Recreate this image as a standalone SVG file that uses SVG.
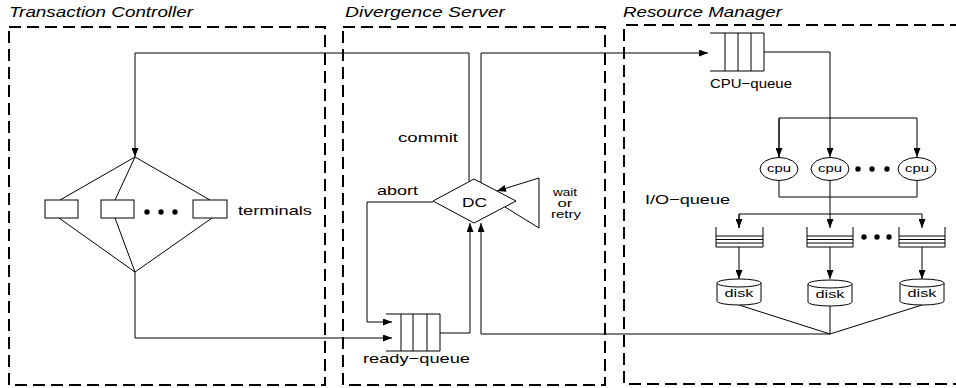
<svg xmlns="http://www.w3.org/2000/svg" width="956" height="388" viewBox="0 0 956 388">
<style>
.panel{fill:none;stroke:#000;stroke-width:2;stroke-dasharray:12 6}
.ln{fill:none;stroke:#000;stroke-width:1}
.sh{fill:#fff;stroke:#000;stroke-width:1}
.title{font-family:"Liberation Sans",Arial,sans-serif;font-style:italic;font-size:14px;fill:#000}
.lbl{font-family:"Liberation Sans",Arial,sans-serif;font-size:13px;fill:#000}
.wr{font-family:"Liberation Sans",Arial,sans-serif;font-size:10px;fill:#000;text-anchor:middle}
.sm{font-family:"Liberation Sans",Arial,sans-serif;font-size:10px;fill:#000;text-anchor:middle}
.dot{fill:#000}
</style>
<defs>
<marker id="ah" markerWidth="9" markerHeight="7" refX="9" refY="3.5" orient="auto" markerUnits="userSpaceOnUse">
<path d="M0,0 L9,3.5 L0,7 z" fill="#000"/>
</marker>
</defs>

<g id="panels">
<g id="transaction-controller">
<rect class="panel" x="9" y="27" width="316" height="358"/>
<text class="title" x="9" y="17" textLength="184" lengthAdjust="spacingAndGlyphs">Transaction Controller</text>
</g>
<g id="divergence-server">
<rect class="panel" x="343" y="27" width="262" height="358"/>
<text class="title" x="345" y="17" textLength="160" lengthAdjust="spacingAndGlyphs">Divergence Server</text>
</g>
<g id="resource-manager">
<path class="panel" d="M962,25 H624 V384 H962"/>
<text class="title" x="623" y="17" textLength="159" lengthAdjust="spacingAndGlyphs">Resource Manager</text>
</g>
</g>

<g id="connectors">
<path class="ln" d="M469,181 V53 H135 V157" marker-end="url(#ah)"/>
<path class="ln" d="M481,183 V53 H708" marker-end="url(#ah)"/>
<path class="ln" d="M135,157 L60,200 M135,157 L115,200 M135,157 L210,200"/>
<path class="ln" d="M59,218 L135,272 M115,218 L135,272 M212,218 L135,272"/>
<path class="ln" d="M135,272 V338 H392" marker-end="url(#ah)"/>
<path class="ln" d="M433,202 H367 V322 H392" marker-end="url(#ah)"/>
<path class="ln" d="M440,333 H470 V223" marker-end="url(#ah)"/>
<path class="ln" d="M830,334 H481 V223" marker-end="url(#ah)"/>
<path class="ln" d="M505,207 L539,228 V178 L497,191" marker-end="url(#ah)"/>
<path class="ln" d="M764,52 H830 V157" marker-end="url(#ah)"/>
<path class="ln" d="M779,157 V118 H917 V157" marker-end="url(#ah)"/>
<path class="ln" d="M779,118 V157" marker-end="url(#ah)"/>
<path class="ln" d="M779,181 V197 H917 V181"/>
<path class="ln" d="M830,181 V228" marker-end="url(#ah)"/>
<path class="ln" d="M739,228 V214 H922 V228" marker-end="url(#ah)"/>
<path class="ln" d="M739,214 V228" marker-end="url(#ah)"/>
<path class="ln" d="M739,247 V279" marker-end="url(#ah)"/>
<path class="ln" d="M830,247 V279" marker-end="url(#ah)"/>
<path class="ln" d="M922,247 V279" marker-end="url(#ah)"/>
<path class="ln" d="M739,305 L830,334 M830,305 V334 M922,305 L830,334"/>
</g>

<g id="terminals">
<rect class="sh" x="45" y="200" width="33" height="18"/>
<rect class="sh" x="101" y="200" width="33" height="18"/>
<rect class="sh" x="193" y="200" width="34" height="18"/>
<circle class="dot" cx="147" cy="212" r="2.7"/>
<circle class="dot" cx="161" cy="212" r="2.7"/>
<circle class="dot" cx="175" cy="212" r="2.7"/>
<text class="lbl" x="238" y="215" textLength="74" lengthAdjust="spacingAndGlyphs">terminals</text>
</g>

<g id="dc">
<path class="sh" d="M474,179 L516,201 L474,223 L433,201 z"/>
<text class="lbl" x="462" y="207" textLength="25" lengthAdjust="spacingAndGlyphs">DC</text>
<text class="lbl" x="398" y="142" textLength="60" lengthAdjust="spacingAndGlyphs">commit</text>
<text class="lbl" x="377" y="195" textLength="41" lengthAdjust="spacingAndGlyphs">abort</text>
<text class="wr" x="565" y="196" textLength="24" lengthAdjust="spacingAndGlyphs">wait</text>
<text class="wr" x="565" y="207" textLength="15" lengthAdjust="spacingAndGlyphs">or</text>
<text class="wr" x="566" y="218" textLength="30" lengthAdjust="spacingAndGlyphs">retry</text>
</g>

<g id="ready-queue">
<path class="ln" d="M386,314 H440 V351 H386 M401,314 V351 M413,314 V351 M427,314 V351"/>
<text class="lbl" x="363" y="363" textLength="107" lengthAdjust="spacingAndGlyphs">ready−queue</text>
</g>

<g id="cpu-queue">
<path class="ln" d="M710,33 H764 V71 H710 M725,33 V71 M738,33 V71 M751,33 V71"/>
<text class="lbl" x="710" y="88" textLength="82" lengthAdjust="spacingAndGlyphs">CPU−queue</text>
</g>

<g id="cpu1">
<ellipse class="sh" cx="779" cy="169" rx="19" ry="11.5"/>
<text class="sm" x="779" y="172" textLength="24" lengthAdjust="spacingAndGlyphs">cpu</text>
</g>
<g id="cpu2">
<ellipse class="sh" cx="830" cy="169" rx="19" ry="11.5"/>
<text class="sm" x="830" y="172" textLength="24" lengthAdjust="spacingAndGlyphs">cpu</text>
</g>
<g id="cpu-dots">
<circle class="dot" cx="858" cy="169" r="2.7"/>
<circle class="dot" cx="872" cy="169" r="2.7"/>
<circle class="dot" cx="887" cy="169" r="2.7"/>
</g>
<g id="cpu3">
<ellipse class="sh" cx="917" cy="169" rx="19" ry="11.5"/>
<text class="sm" x="917" y="172" textLength="24" lengthAdjust="spacingAndGlyphs">cpu</text>
</g>

<g id="io-queue-label">
<text class="lbl" x="645" y="204" textLength="85" lengthAdjust="spacingAndGlyphs">I/O−queue</text>
</g>
<g id="ioq1">
<path class="ln" d="M716,227 V247 H763 V227 M716,236 H763 M716,239.5 H763 M716,243 H763"/>
</g>
<g id="ioq2">
<path class="ln" d="M807,227 V247 H853 V227 M807,236 H853 M807,239.5 H853 M807,243 H853"/>
</g>
<g id="io-dots">
<circle class="dot" cx="864" cy="237" r="2.7"/>
<circle class="dot" cx="877" cy="237" r="2.7"/>
<circle class="dot" cx="889" cy="237" r="2.7"/>
</g>
<g id="ioq3">
<path class="ln" d="M899,227 V247 H945 V227 M899,236 H945 M899,239.5 H945 M899,243 H945"/>
</g>

<g id="disk1">
<path class="sh" d="M717,283 V301 A22,4 0 0 0 761,301 V283"/>
<ellipse class="sh" cx="739" cy="283" rx="22" ry="4"/>
<text class="sm" x="739" y="297" font-size="11" textLength="29" lengthAdjust="spacingAndGlyphs">disk</text>
</g>
<g id="disk2">
<path class="sh" d="M808,284 V302 A22,4 0 0 0 852,302 V284"/>
<ellipse class="sh" cx="830" cy="284" rx="22" ry="4"/>
<text class="sm" x="830" y="298" font-size="11" textLength="29" lengthAdjust="spacingAndGlyphs">disk</text>
</g>
<g id="disk3">
<path class="sh" d="M900,283 V301 A22,4 0 0 0 944,301 V283"/>
<ellipse class="sh" cx="922" cy="283" rx="22" ry="4"/>
<text class="sm" x="922" y="297" font-size="11" textLength="29" lengthAdjust="spacingAndGlyphs">disk</text>
</g>
</svg>
